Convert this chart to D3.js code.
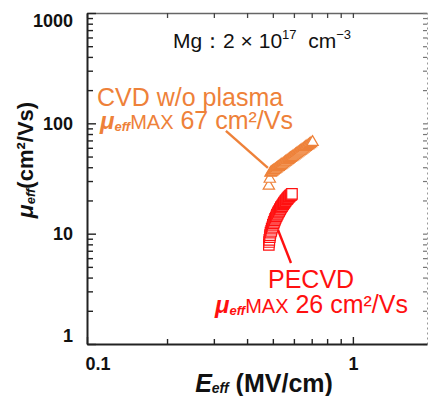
<!DOCTYPE html>
<html>
<head>
<meta charset="utf-8">
<script src="https://cdn.jsdelivr.net/npm/d3@7"></script>
<style>
  body { margin: 0; background: #fff; }
  text { font-family: "Liberation Sans", Arial, sans-serif; }
</style>
</head>
<body>
<svg id="chart" width="429" height="396"></svg>
<script>
// CVD w/o plasma, open triangles (E_eff in MV/cm, mu_eff in cm2/Vs)
var cvdE = [0.483, 0.487, 0.490, 0.494, 0.498, 0.502, 0.506, 0.511, 0.516, 0.521,
            0.526, 0.531, 0.536, 0.541, 0.547, 0.553, 0.559, 0.565, 0.571, 0.577,
            0.583, 0.589, 0.595, 0.602, 0.609, 0.616, 0.623, 0.630, 0.637, 0.644,
            0.651, 0.658, 0.665, 0.672, 0.680, 0.688, 0.696, 0.705];
var cvdMu = [27.1, 31.3, 35.5, 36.0, 36.5, 37.1, 37.6, 38.2, 38.9, 39.6,
             40.2, 40.9, 41.6, 42.3, 43.1, 44.0, 44.8, 45.6, 46.5, 47.4,
             48.3, 49.1, 50.0, 51.1, 52.1, 53.2, 54.3, 55.3, 56.4, 57.5,
             58.6, 59.8, 60.9, 62.0, 63.3, 64.6, 66.0, 67.5];

// PECVD, open squares
var peE = [0.483, 0.484, 0.485, 0.487, 0.488, 0.490, 0.493, 0.495, 0.498, 0.500,
           0.503, 0.505, 0.508, 0.510, 0.513, 0.516, 0.518, 0.521, 0.523, 0.526,
           0.528, 0.531, 0.533, 0.536, 0.538, 0.541, 0.544, 0.547, 0.550, 0.553,
           0.556, 0.559, 0.562, 0.565, 0.568, 0.571, 0.574, 0.577, 0.580, 0.584,
           0.587, 0.590];
var peMu = [7.9, 8.4, 8.8, 9.3, 9.7, 10.2, 10.6, 11.1, 11.5, 12.0,
            12.4, 12.8, 13.2, 13.6, 14.0, 14.4, 14.8, 15.1, 15.5, 15.8,
            16.1, 16.5, 16.8, 17.2, 17.5, 17.8, 18.2, 18.5, 18.9, 19.2,
            19.6, 19.9, 20.3, 20.6, 20.9, 21.2, 21.5, 21.8, 22.1, 22.3,
            22.6, 22.9];

var yLabels = [1, 10, 100, 1000];
var xLabels = [0.1, 1];

var orange = "#ee8139";
var red = "#ff1010";

var svg = d3.select("#chart");

var x = d3.scaleLog().domain([0.1, 1.9]).range([87, 427]);
var y = d3.scaleLog().domain([1, 1000]).range([344, 13]);

function pick(list) {
  return function(d) {
    var m = list.find(function(v) { return Math.abs(v - d) / v < 1e-6; });
    return m === undefined ? "" : String(m);
  };
}
function isMajor(list) {
  return function(d) { return pick(list)(d) !== ""; };
}

// top and right frame (thin, grey)
var topAx = svg.append("g").attr("transform", "translate(0,13)")
  .call(d3.axisTop(x).tickValues(x.ticks()).tickSize(-5).tickSizeOuter(0).tickFormat(""));
topAx.select(".domain").attr("stroke", "#666").attr("stroke-width", 1.5);
topAx.selectAll(".tick line").attr("stroke", "#444").attr("stroke-width", 1.3);

var rightAx = svg.append("g").attr("transform", "translate(427,0)")
  .call(d3.axisRight(y).tickValues(y.ticks()).tickSize(-4).tickSizeOuter(0).tickFormat(""));
rightAx.select(".domain").attr("stroke", "#999").attr("stroke-width", 1).attr("stroke-dasharray", "2,3");
rightAx.selectAll(".tick line").attr("stroke", "#777").attr("stroke-width", 1.2);

// left axis
var leftAx = svg.append("g").attr("transform", "translate(87,0)")
  .call(d3.axisLeft(y).tickValues(y.ticks()).tickSize(-6).tickSizeOuter(0).tickPadding(14).tickFormat(pick(yLabels)));
leftAx.select(".domain").attr("stroke", "#222").attr("stroke-width", 2);
leftAx.selectAll(".tick line").attr("stroke", "#222").attr("stroke-width", 1.4)
  .filter(isMajor(yLabels)).attr("x2", 9);
leftAx.selectAll(".tick text")
  .attr("font-size", 18).attr("font-weight", "bold").attr("fill", "#111")
  .attr("font-family", "Liberation Sans, Arial, sans-serif")
  .attr("dy", function(d) { return Math.abs(d - 1000) < 1e-6 ? "0.75em" : Math.abs(d - 1) < 1e-9 ? "-0.15em" : "0.32em"; });

// bottom axis
var bottomAx = svg.append("g").attr("transform", "translate(0,344)")
  .call(d3.axisBottom(x).tickValues(x.ticks()).tickSize(-5).tickSizeOuter(0).tickPadding(13).tickFormat(pick(xLabels)));
bottomAx.select(".domain").attr("stroke", "#222").attr("stroke-width", 2);
bottomAx.selectAll(".tick line").attr("stroke", "#222").attr("stroke-width", 1.4)
  .filter(isMajor(xLabels)).attr("y2", -7);
bottomAx.selectAll(".tick text")
  .attr("font-size", 18).attr("font-weight", "bold").attr("fill", "#111")
  .attr("font-family", "Liberation Sans, Arial, sans-serif")
  .filter(function(d) { return Math.abs(d - 0.1) < 1e-9; })
  .attr("text-anchor", "start").attr("x", -2);

// leader lines
var line = d3.line().x(function(d) { return x(d[0]); }).y(function(d) { return y(d[1]); });
var cvdLeader = [[0.333, 85.3], [0.479, 39.4]];
var peLeader = [[0.523, 10.8], [0.585, 5.42]];
svg.append("path").attr("d", line(cvdLeader)).attr("stroke", orange).attr("stroke-width", 2.4).attr("fill", "none");
svg.append("path").attr("d", line(peLeader)).attr("stroke", red).attr("stroke-width", 2.4).attr("fill", "none");

// markers
var tri = d3.symbol().type(d3.symbolTriangle).size(56);
svg.append("g").selectAll("path")
  .data(d3.range(cvdE.length))
  .enter().append("path")
  .attr("d", tri)
  .attr("transform", function(i) { return "translate(" + x(cvdE[i]) + "," + y(cvdMu[i]) + ")"; })
  .attr("fill", "#fff").attr("stroke", orange).attr("stroke-width", 1.2);

var sq = d3.symbol().type(d3.symbolSquare).size(110);
svg.append("g").selectAll("path")
  .data(d3.range(peE.length))
  .enter().append("path")
  .attr("d", sq)
  .attr("transform", function(i) { return "translate(" + x(peE[i]) + "," + y(peMu[i]) + ")"; })
  .attr("fill", "#fff").attr("stroke", red).attr("stroke-width", 1.2);

// sample note
var mg = svg.append("text").attr("x", 262).attr("y", 48).attr("text-anchor", "middle")
  .attr("font-size", 21).attr("fill", "#111");
mg.append("tspan").text("Mg\uff1a2 \u00d7 10");
mg.append("tspan").attr("font-size", 13).attr("dy", -9).text("17");
mg.append("tspan").attr("dy", 9).text("\u00a0\u00a0cm");
mg.append("tspan").attr("font-size", 13).attr("dy", -9).text("\u22123");

// annotations
function maxLabel(xp, yp, value, color) {
  var t = svg.append("text").attr("x", xp).attr("y", yp).attr("fill", color);
  t.append("tspan").attr("font-size", 24).attr("font-weight", "bold").attr("font-style", "italic").text("\u03bc");
  t.append("tspan").attr("font-size", 13).attr("font-weight", "bold").attr("font-style", "italic").attr("dy", 2).text("eff");
  t.append("tspan").attr("font-size", 20).attr("dy", -2).text("MAX");
  t.append("tspan").attr("font-size", 25).text(" " + value + " cm\u00b2/Vs");
}
svg.append("text").attr("x", 97).attr("y", 106).attr("fill", orange).attr("font-size", 25).text("CVD w/o plasma");
maxLabel(100, 129, 67, orange);
svg.append("text").attr("x", 268).attr("y", 288).attr("fill", red).attr("font-size", 25).text("PECVD");
maxLabel(215, 313, 26, red);

// axis titles
var xt = svg.append("text").attr("x", 264).attr("y", 392).attr("text-anchor", "middle")
  .attr("font-weight", "bold").attr("fill", "#111");
xt.append("tspan").attr("font-size", 25).attr("font-style", "italic").text("E");
xt.append("tspan").attr("font-size", 14).attr("font-style", "italic").attr("dy", 1).text("eff");
xt.append("tspan").attr("font-size", 25).attr("dy", -1).text(" (MV/cm)");

var yt = svg.append("text").attr("transform", "translate(33,160) rotate(-90)").attr("text-anchor", "middle")
  .attr("font-weight", "bold").attr("fill", "#111");
yt.append("tspan").attr("font-size", 23).attr("font-style", "italic").text("\u03bc");
yt.append("tspan").attr("font-size", 13).attr("font-style", "italic").attr("dy", 2).text("eff");
yt.append("tspan").attr("font-size", 22).attr("dy", -2).text("(cm\u00b2/Vs)");
</script>
</body>
</html>
